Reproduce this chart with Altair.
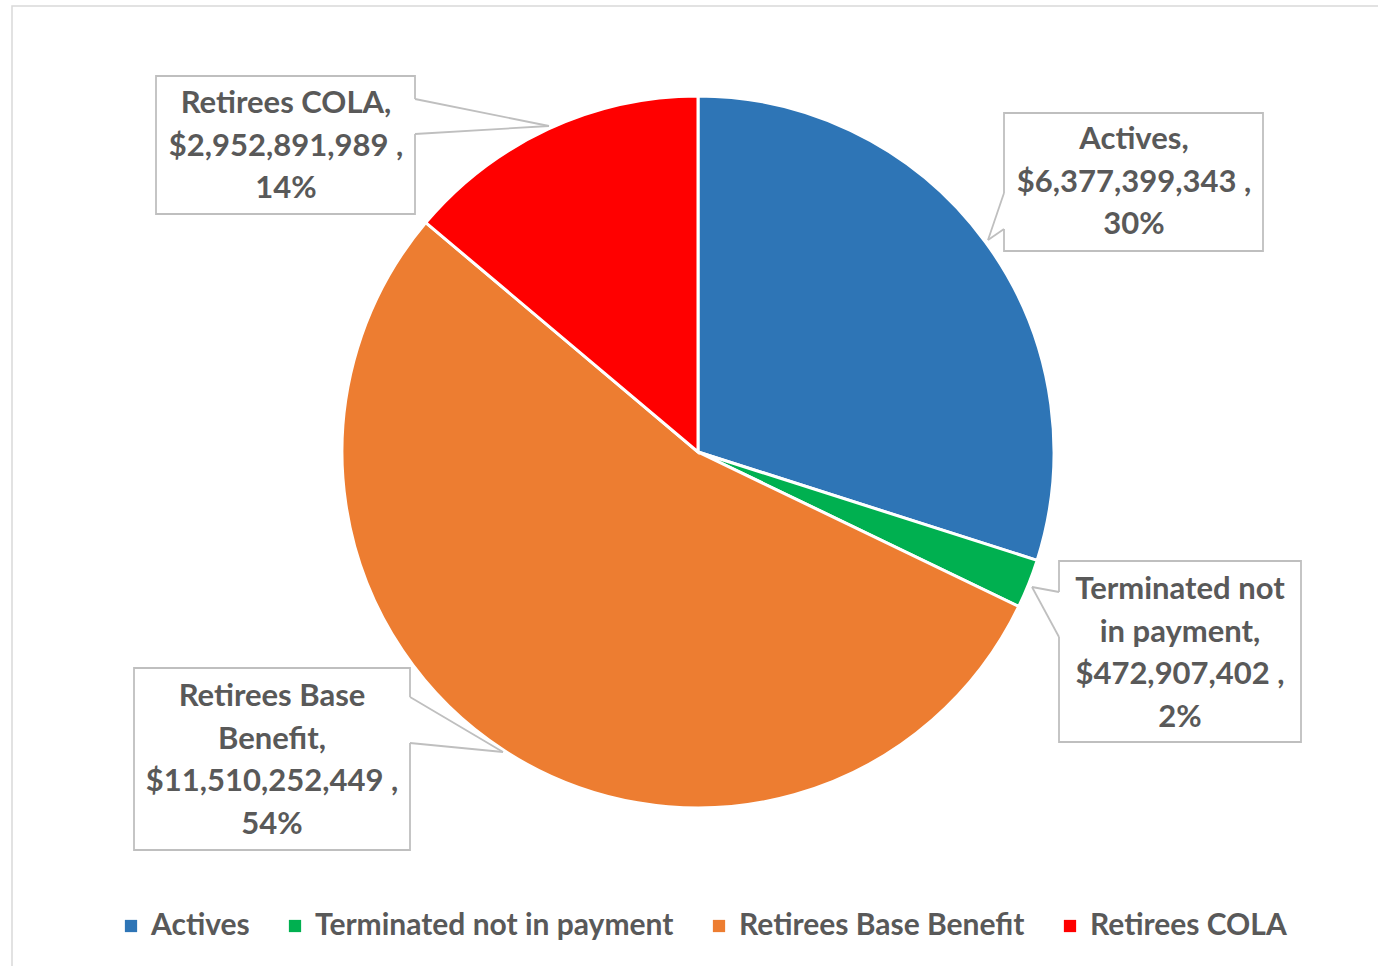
import altair as alt
import pandas as pd

# ---- data ----
categories = ["Actives", "Terminated not in payment", "Retirees Base Benefit", "Retirees COLA"]
values = [6377399343, 472907402, 11510252449, 2952891989]
label_heads = ["Actives,", "Terminated not\nin payment,", "Retirees Base\nBenefit,", "Retirees COLA,"]
colors = ["#2E75B6", "#00B050", "#ED7D31", "#FF0000"]

# ---- layout (pixels) ----
W, H = 1378, 966
CX, CY, R = 698, 452, 356
FONT = "Lato"
TXT = "#595959"
BOX = "#BFBFBF"
# label boxes: x0, y0, x1, y1, text center x, first-line y
boxes = [
    (1004, 113, 1263, 251, 1134, 140),
    (1059, 561, 1301, 742, 1180, 590),
    (134, 668, 410, 850, 272, 697),
    (156, 76, 415, 214, 286, 104),
]
# callout wedge: edge x, gap y0, gap y1, tip x, tip y
wedges = [
    (1004, 193, 229, 988, 240),
    (1059, 592, 637, 1032, 587),
    (410, 697, 743, 503, 752),
    (415, 99, 134, 549, 126),
]

total = sum(values)
pie_df = pd.DataFrame({"category": categories, "value": values, "order": list(range(len(categories)))})

label_text = []
for head, v in zip(label_heads, values):
    label_text.append(f"{head}\n${v:,} ,\n{round(v / total * 100)}%")

box_df = pd.DataFrame({
    "x0": [b[0] for b in boxes], "y0": [b[1] for b in boxes],
    "x1": [b[2] for b in boxes], "y1": [b[3] for b in boxes],
    "tx": [b[4] for b in boxes], "ty": [b[5] for b in boxes],
    "text": label_text,
})
gap_df = pd.DataFrame({
    "x": [w[0] for w in wedges], "y": [w[1] for w in wedges], "y2": [w[2] for w in wedges],
})
lead_rows = []
for w in wedges:
    lead_rows.append({"x": w[0], "y": w[1], "x2": w[3], "y2": w[4]})
    lead_rows.append({"x": w[0], "y": w[2], "x2": w[3], "y2": w[4]})
lead_df = pd.DataFrame(lead_rows)

frame = alt.Chart(pd.DataFrame({"a": [0]})).mark_rect(
    fill="white", stroke="#D9D9D9", strokeWidth=1.5
).encode(x=alt.value(12), x2=alt.value(W + 20), y=alt.value(6), y2=alt.value(H + 20))

pie = alt.Chart(pie_df).mark_arc(radius=R, stroke="white", strokeWidth=3).encode(
    theta=alt.Theta("value:Q", stack=True),
    order=alt.Order("order:Q"),
    color=alt.Color(
        "category:N",
        scale=alt.Scale(domain=categories, range=colors),
        legend=alt.Legend(
            title=None, orient="none", legendX=116, legendY=911, direction="horizontal",
            symbolType="square", symbolSize=150, symbolStrokeWidth=0,
            labelFont=FONT, labelFontSize=30, labelColor=TXT, labelFontWeight="bold",
            labelOffset=5, columnPadding=30, labelLimit=600,
        ),
    ),
    x=alt.value(CX),
    y=alt.value(CY),
)

rects = alt.Chart(box_df).mark_rect(fill="white", stroke=BOX, strokeWidth=1.8).encode(
    x=alt.X("x0:Q", scale=None), x2="x1:Q",
    y=alt.Y("y0:Q", scale=None), y2="y1:Q",
)
gaps = alt.Chart(gap_df).mark_rule(color="white", strokeWidth=3).encode(
    x=alt.X("x:Q", scale=None), y=alt.Y("y:Q", scale=None), y2="y2:Q",
)
leads = alt.Chart(lead_df).mark_rule(color=BOX, strokeWidth=1.8).encode(
    x=alt.X("x:Q", scale=None), x2="x2:Q",
    y=alt.Y("y:Q", scale=None), y2="y2:Q",
)
texts = alt.Chart(box_df).mark_text(
    font=FONT, fontSize=31, fontWeight="bold", color=TXT, align="center",
    baseline="middle", lineBreak="\n", lineHeight=42.5,
).encode(
    x=alt.X("tx:Q", scale=None), y=alt.Y("ty:Q", scale=None), text="text:N",
)

chart = alt.layer(frame, pie, rects, gaps, leads, texts).properties(
    width=W, height=H, padding=0, autosize=alt.AutoSizeParams(type="none"),
    background="white",
).configure_view(stroke=None)

chart.save("out.html", embed_options={"renderer": "svg", "actions": False})
